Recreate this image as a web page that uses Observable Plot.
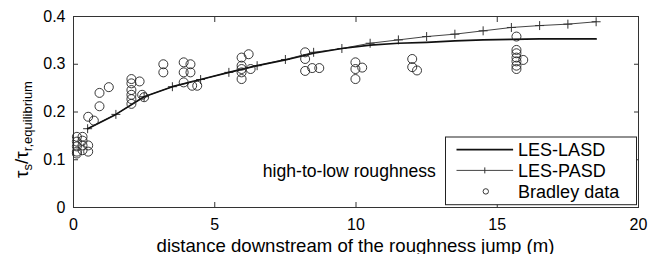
<!DOCTYPE html>
<html><head><meta charset="utf-8">
<script src="https://cdn.jsdelivr.net/npm/d3@7"></script>
<script src="https://cdn.jsdelivr.net/npm/@observablehq/plot@0.6"></script>
<style>
html,body{margin:0;padding:0;background:#fff;}
#chart{width:651px;height:254px;overflow:hidden;}
</style></head><body><div id="chart"></div>
<script>
// ---- data ----
const xModel = [0.5,1.5,2.5,3.5,4.5,5.5,6.5,7.5,8.5,9.5,10.5,11.5,12.5,13.5,14.5,15.5,16.5,17.5,18.5];
const lasd = [0.165,0.195,0.232,0.253,0.268,0.283,0.297,0.309,0.323,0.333,0.340,0.344,0.346,0.349,0.351,0.352,0.353,0.353,0.353];
const pasd = [0.165,0.195,0.232,0.253,0.268,0.283,0.297,0.310,0.325,0.333,0.344,0.351,0.358,0.363,0.370,0.377,0.381,0.384,0.389];
const bradleyX = [0.12,0.32,0.12,0.32,0.12,0.32,0.52,0.12,0.32,0.52,0.12,
  0.52,0.72,0.92,0.92,1.25,
  2.05,2.05,2.05,2.05,2.05,2.05,2.34,2.43,2.5,
  3.18,3.18,
  3.9,3.9,3.9,4.14,4.14,4.2,4.38,
  5.95,5.95,5.95,5.95,5.95,6.2,6.27,
  8.2,8.2,8.2,8.45,8.7,
  9.98,9.98,9.98,10.22,
  11.99,11.99,12.16,
  15.68,15.68,15.68,15.68,15.68,15.68,15.68,15.92];
const bradleyY = [0.148,0.148,0.138,0.140,0.128,0.130,0.130,0.117,0.120,0.117,0.113,
  0.190,0.182,0.212,0.240,0.252,
  0.269,0.260,0.246,0.236,0.227,0.217,0.264,0.236,0.231,
  0.300,0.283,
  0.304,0.283,0.262,0.300,0.283,0.255,0.255,
  0.314,0.297,0.290,0.283,0.269,0.321,0.290,
  0.325,0.311,0.286,0.292,0.292,
  0.304,0.290,0.269,0.293,
  0.311,0.294,0.287,
  0.358,0.330,0.323,0.314,0.306,0.297,0.290,0.309];
const xTicks = [0,5,10,15,20];
const yTicks = [0,0.1,0.2,0.3,0.4];
const yTickLabels = ["0","0.1","0.2","0.3","0.4"];
const legendLabels = ["LES-LASD","LES-PASD","Bradley data"];
const annotation = "high-to-low roughness";
const xLabel = "distance downstream of the roughness jump (m)";

const font = '"Liberation Sans", Arial, Helvetica, sans-serif';
const lasdData = xModel.map((x,i)=>({x, y: lasd[i]}));
const pasdData = xModel.map((x,i)=>({x, y: pasd[i]}));
const bradley = bradleyX.map((x,i)=>({x, y: bradleyY[i]}));

const plot = Plot.plot({
  width: 651, height: 254,
  marginLeft: 73, marginRight: 13, marginTop: 16, marginBottom: 47,
  style: {fontFamily: font, fontSize: "16px", color: "#000", background: "#fff"},
  x: {domain: [0, 20]},
  y: {domain: [0, 0.4]},
  marks: [
    Plot.frame({stroke: "#333"}),
    Plot.axisX(xTicks, {anchor: "bottom", tickSize: 0, tickPadding: 11, tickFormat: d => String(d), fontSize: 16, label: null}),
    Plot.axisX(xTicks, {anchor: "bottom", tickSize: 5, dy: -5, text: null, stroke: "#333", label: null}),
    Plot.axisX(xTicks, {anchor: "top", tickSize: 5, dy: 5, text: null, stroke: "#333", label: null}),
    Plot.axisY(yTicks, {anchor: "left", tickSize: 0, tickPadding: 8, tickFormat: d => yTickLabels[yTicks.indexOf(d)], fontSize: 16, label: null}),
    Plot.axisY(yTicks, {anchor: "left", tickSize: 5, dx: 5, text: null, stroke: "#333", label: null}),
    Plot.axisY(yTicks, {anchor: "right", tickSize: 5, dx: -5, text: null, stroke: "#333", label: null}),
    Plot.line(pasdData, {x: "x", y: "y", stroke: "#444", strokeWidth: 1}),
    Plot.dot(pasdData, {x: "x", y: "y", symbol: "plus", r: 3, stroke: "#333", strokeWidth: 1}),
    Plot.line(lasdData, {x: "x", y: "y", stroke: "#111", strokeWidth: 1.7}),
    Plot.dot(bradley, {x: "x", y: "y", r: 4.5, stroke: "#222", strokeWidth: 0.9, fill: "none"}),
    Plot.text([annotation], {x: 6.7, y: 0.075, text: d => d, textAnchor: "start", fontSize: 17.6, fill: "#000"})
  ]
});
document.getElementById("chart").appendChild(plot);

// ---- labels and legend ----
const svg = d3.select(plot);
const sx = plot.scale("x"), sy = plot.scale("y");
const x0 = sx.apply(0), x1 = sx.apply(20), y0 = sy.apply(0), y1 = sy.apply(0.4);

svg.append("text").attr("x", (x0 + x1) / 2).attr("y", 251.5)
  .attr("text-anchor", "middle").attr("font-size", 18.6).attr("font-family", font).attr("fill", "#000")
  .text(xLabel);

const yl = svg.append("text").attr("transform", `translate(28,${(y0 + y1) / 2 + 18}) rotate(-90)`)
  .attr("text-anchor", "middle").attr("font-family", font).attr("font-size", 19).attr("fill", "#000");
yl.append("tspan").text("τ");
yl.append("tspan").attr("font-size", 13).attr("dy", 4).text("s");
yl.append("tspan").attr("dy", -4).text("/τ");
yl.append("tspan").attr("font-size", 13).attr("dy", 4).text("r,equilibrium");

// legend box
const lg = svg.append("g").attr("font-family", font).attr("font-size", 18).attr("text-anchor", "start");
const lx1 = x1 - 1.5, lx0 = lx1 - 191, ly1 = y0 - 2.3, ly0 = ly1 - 67.7;
lg.append("rect").attr("x", lx0).attr("y", ly0).attr("width", lx1 - lx0).attr("height", ly1 - ly0)
  .attr("fill", "#fff").attr("stroke", "#222").attr("stroke-width", 1);
const rows = [ly0 + 12.7, ly0 + 33.4, ly0 + 54.4];
const sampleA = lx0 + 11, sampleB = lx0 + 67.6, textX = lx0 + 72.6;
// LES-LASD
lg.append("line").attr("x1", sampleA).attr("x2", sampleB).attr("y1", rows[0]).attr("y2", rows[0]).attr("stroke", "#111").attr("stroke-width", 1.7);
// LES-PASD
lg.append("line").attr("x1", sampleA).attr("x2", sampleB).attr("y1", rows[1]).attr("y2", rows[1]).attr("stroke", "#444").attr("stroke-width", 1);
lg.append("line").attr("x1", (sampleA + sampleB) / 2).attr("x2", (sampleA + sampleB) / 2).attr("y1", rows[1] - 3).attr("y2", rows[1] + 3).attr("stroke", "#333");
// Bradley
lg.append("circle").attr("cx", (sampleA + sampleB) / 2 + 1).attr("cy", rows[2]).attr("r", 2.7).attr("fill", "none").attr("stroke", "#222").attr("stroke-width", 0.9);
legendLabels.forEach((t, i) => {
  lg.append("text").attr("x", textX).attr("y", rows[i]).attr("dy", "0.35em").attr("fill", "#000").text(t);
});
</script>
</body></html>
